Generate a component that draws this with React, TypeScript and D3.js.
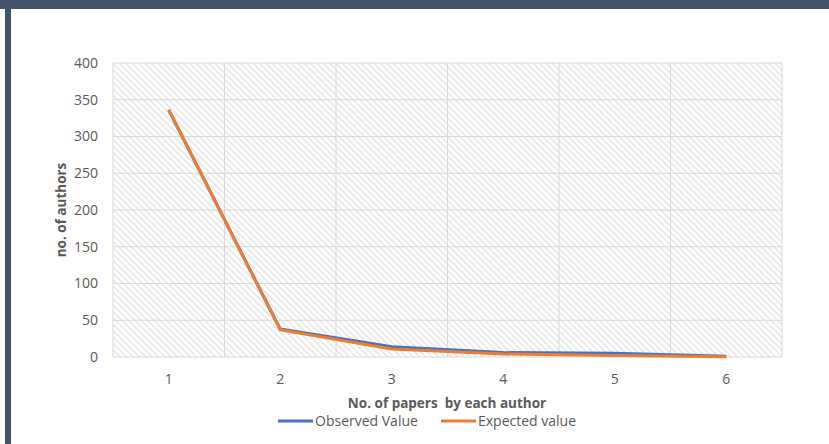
import React from "react";
import * as d3 from "d3";

const categories = ["1", "2", "3", "4", "5", "6"];
const observed = [336, 38, 14, 6, 5, 1];
const expected = [336, 37, 11, 4, 2, 0.5];
const yTicks = [0, 50, 100, 150, 200, 250, 300, 350, 400];
const seriesNames = ["Observed Value", "Expected value"];

const W = 829;
const H = 444;
const m = { left: 113, right: 782, top: 63, bottom: 357 };
const font = "'Open Sans', 'Noto Sans', sans-serif";

export default function App() {
  const x = d3.scaleBand().domain(categories).range([m.left, m.right]);
  const y = d3.scaleLinear().domain([0, 400]).range([m.bottom, m.top]);
  const line = d3
    .line<number>()
    .x((_, i) => (x(categories[i]) as number) + x.bandwidth() / 2)
    .y((d) => y(d));
  const bounds = categories.map((c) => x(c) as number).concat([m.right]);

  return (
    <svg
      width={W}
      height={H}
      style={{ position: "absolute", left: 0, top: 0, background: "#fff" }}
    >
      <defs>
        <pattern
          id="hatch"
          patternUnits="userSpaceOnUse"
          width={4.5}
          height={4.5}
          patternTransform="rotate(45)"
        >
          <rect width={4.5} height={4.5} fill="#fff" />
          <line x1={0} y1={0.75} x2={4.5} y2={0.75} stroke="#e0e0e0" strokeWidth={1.2} />
        </pattern>
      </defs>
      <rect x={0} y={0} width={W} height={9} fill="#44546A" />
      <rect x={5} y={0} width={6} height={H} fill="#44546A" />

      <rect
        x={m.left}
        y={m.top}
        width={m.right - m.left}
        height={m.bottom - m.top}
        fill="url(#hatch)"
      />
      {yTicks.map((t) => (
        <line
          key={"h" + t}
          x1={m.left}
          x2={m.right}
          y1={y(t)}
          y2={y(t)}
          stroke="#d9d9d9"
          strokeWidth={1}
        />
      ))}
      {bounds.map((b, i) => (
        <line
          key={"v" + i}
          x1={b}
          x2={b}
          y1={m.top}
          y2={m.bottom}
          stroke="#d9d9d9"
          strokeWidth={1}
        />
      ))}
      {yTicks.map((t) => (
        <text
          key={"yt" + t}
          x={98}
          y={y(t)}
          dy="0.35em"
          textAnchor="end"
          fontFamily={font}
          fontSize={14}
          fill="#595959"
        >
          {t}
        </text>
      ))}
      {categories.map((c) => (
        <text
          key={"xt" + c}
          x={(x(c) as number) + x.bandwidth() / 2}
          y={384}
          textAnchor="middle"
          fontFamily={font}
          fontSize={14}
          fill="#595959"
        >
          {c}
        </text>
      ))}
      <path d={line(observed) || ""} fill="none" stroke="#4472C4" strokeWidth={3} strokeLinejoin="round" />
      <path d={line(expected) || ""} fill="none" stroke="#ED7D31" strokeWidth={3} strokeLinejoin="round" />

      <text
        x={447}
        y={408}
        textAnchor="middle"
        fontFamily={font}
        fontSize={13.5}
        fontWeight="bold"
        fill="#595959"
      >
        No. of papers{"\u00a0\u00a0"}by each author
      </text>
      <text
        transform={`translate(66,${(m.top + m.bottom) / 2}) rotate(-90)`}
        textAnchor="middle"
        fontFamily={font}
        fontSize={13.5}
        fontWeight="bold"
        fill="#595959"
      >
        no. of authors
      </text>

      <line x1={278} x2={313} y1={421} y2={421} stroke="#4472C4" strokeWidth={3} />
      <text x={315} y={426} fontFamily={font} fontSize={14} fill="#595959">
        {seriesNames[0]}
      </text>
      <line x1={441} x2={476} y1={421} y2={421} stroke="#ED7D31" strokeWidth={3} />
      <text x={478} y={426} fontFamily={font} fontSize={14} fill="#595959">
        {seriesNames[1]}
      </text>
    </svg>
  );
}
